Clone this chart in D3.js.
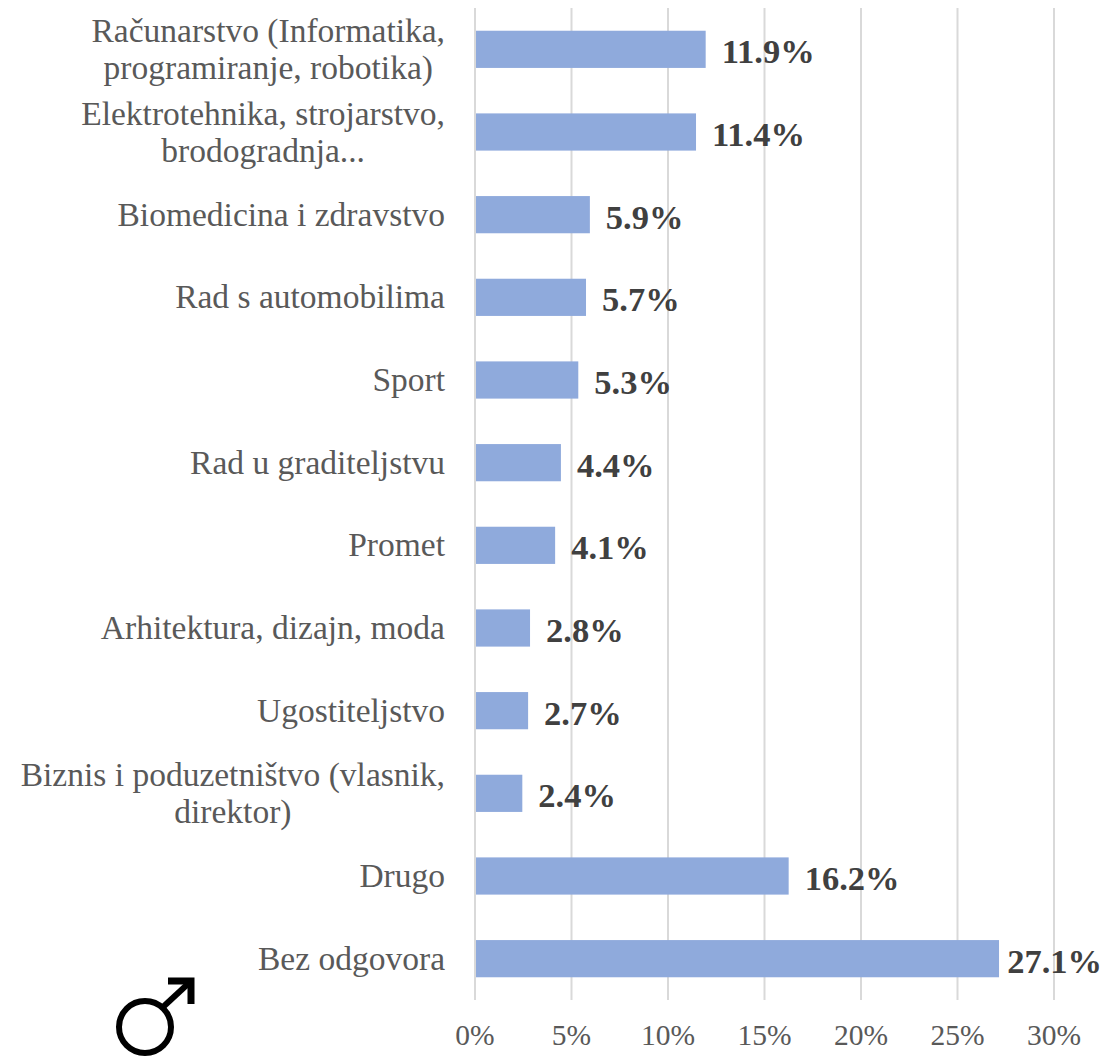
<!DOCTYPE html>
<html>
<head>
<meta charset="utf-8">
<script src="https://cdn.jsdelivr.net/npm/d3@7"></script>
<style>
    html, body { margin: 0; padding: 0; background: #fff; }
    svg { display: block; font-family: "Liberation Serif", serif; }
</style>
</head>
<body>
<div id="chart"></div>
<script>
// Each category is a list of lines, as wrapped in the original
const categories = [
    ["Računarstvo (Informatika,", "programiranje, robotika)"],
    ["Elektrotehnika, strojarstvo,", "brodogradnja..."],
    ["Biomedicina i zdravstvo"],
    ["Rad s automobilima"],
    ["Sport"],
    ["Rad u graditeljstvu"],
    ["Promet"],
    ["Arhitektura, dizajn, moda"],
    ["Ugostiteljstvo"],
    ["Biznis i poduzetništvo (vlasnik,", "direktor)"],
    ["Drugo"],
    ["Bez odgovora"]
];
const values = [11.9, 11.4, 5.9, 5.7, 5.3, 4.4, 4.1, 2.8, 2.7, 2.4, 16.2, 27.1];
const ticks = [0, 5, 10, 15, 20, 25, 30];

const width = 1107;
const height = 1058;

const svg = d3.select("#chart")
    .append("svg")
    .attr("width", width)
    .attr("height", height);

const x = d3.scaleLinear().domain([0, 30]).range([475, 1054]);
const y = d3.scaleBand()
    .domain(d3.range(categories.length))
    .range([8, 1000])
    .paddingInner(0.55)
    .paddingOuter(0.275);

// Gridlines
svg.append("g")
    .selectAll("line")
    .data(ticks)
    .join("line")
    .attr("x1", d => x(d))
    .attr("x2", d => x(d))
    .attr("y1", 8)
    .attr("y2", 1000)
    .attr("stroke", "#d9d9d9")
    .attr("stroke-width", 2);

// Bars
svg.append("g")
    .selectAll("rect")
    .data(values)
    .join("rect")
    .attr("x", x(0) + 1)
    .attr("y", (d, i) => y(i))
    .attr("width", d => x(d) - x(0))
    .attr("height", y.bandwidth())
    .attr("fill", "#8faadc");

// Value labels, pulled back when they would run off the right edge
svg.append("g")
    .selectAll("text")
    .data(values)
    .join("text")
    .attr("y", (d, i) => y(i) + y.bandwidth() / 2 + 14)
    .attr("font-size", 34.5)
    .attr("font-weight", "bold")
    .attr("fill", "#404040")
    .text(d => d.toFixed(1) + "%")
    .attr("x", function (d) {
        return Math.min(x(d) + 17, 1102 - this.getComputedTextLength());
    });

// Category labels: right aligned block, second line centred under the first
const labels = svg.append("g")
    .selectAll("text")
    .data(categories)
    .join("text")
    .attr("font-size", 33.5)
    .attr("fill", "#595959");

labels.each(function (lines, i) {
    const mid = y(i) + y.bandwidth() / 2;
    const lineHeight = 37;
    const first = mid + 11 - (lines.length - 1) * lineHeight / 2;
    const text = d3.select(this);
    const spans = text.selectAll("tspan")
        .data(lines)
        .join("tspan")
        .attr("y", (d, j) => first + j * lineHeight)
        .text(d => d);
    const blockWidth = d3.max(spans.nodes(), n => n.getComputedTextLength());
    const centre = 445 - blockWidth / 2;
    spans.attr("x", centre).attr("text-anchor", "middle");
});

// Axis tick labels
svg.append("g")
    .selectAll("text")
    .data(ticks)
    .join("text")
    .attr("x", d => x(d))
    .attr("y", 1045)
    .attr("text-anchor", "middle")
    .attr("font-size", 29.5)
    .attr("fill", "#595959")
    .text(d => d + "%");

// Male symbol in the bottom left corner
const symbol = svg.append("g").attr("fill", "none").attr("stroke", "#000").attr("stroke-width", 6);
symbol.append("circle").attr("cx", 145).attr("cy", 1027).attr("r", 26);
symbol.append("path").attr("d", "M163 1007L190 982");
symbol.append("path").attr("d", "M168 981H191V1004").attr("stroke-width", 7);
</script>
</body>
</html>
